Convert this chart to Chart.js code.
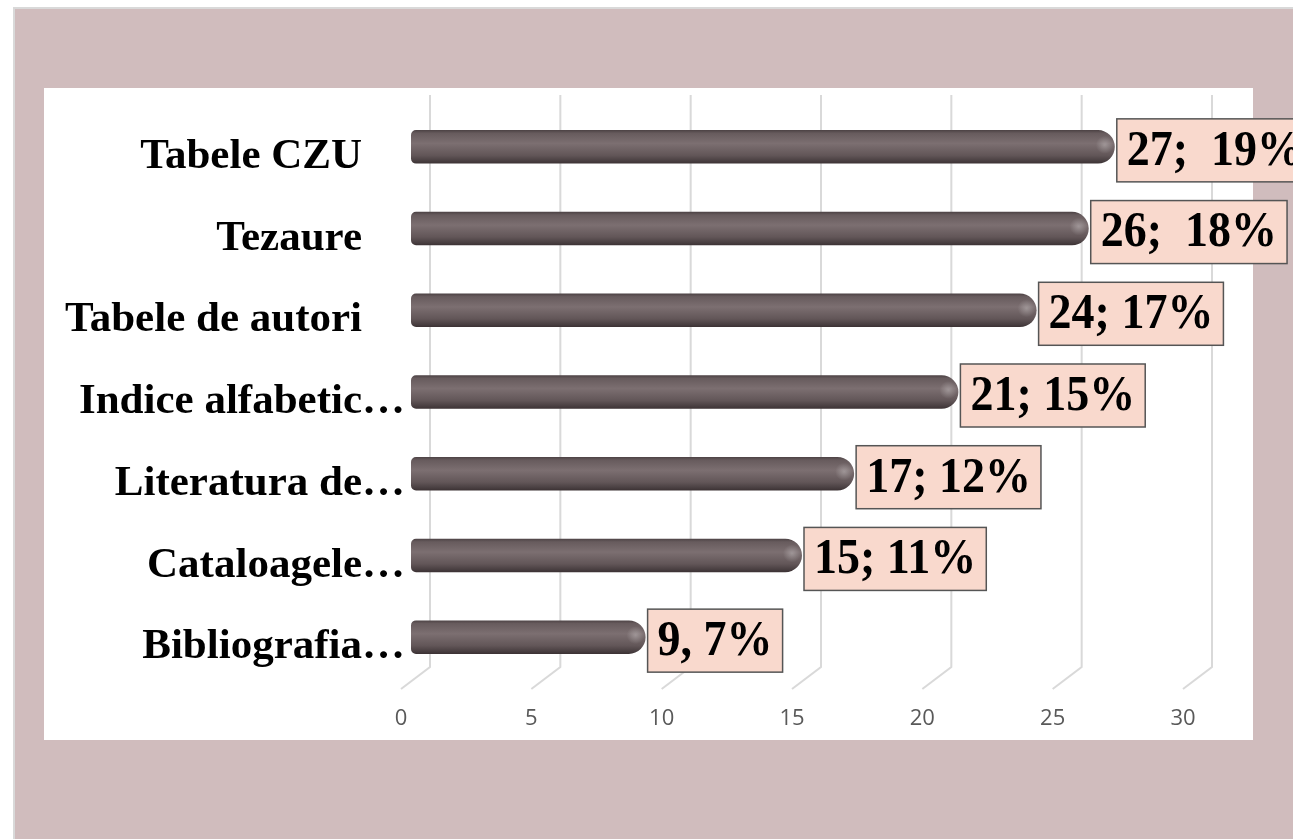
<!DOCTYPE html>
<html lang="ro">
<head>
    <meta charset="UTF-8">
    <title>Instrumente de lucru</title>
    <script src="https://cdn.jsdelivr.net/npm/chart.js"></script>
    <style>
        body { margin: 0; background: #ffffff; }
        #wrap { width: 1293px; height: 839px; }
    </style>
</head>
<body>
    <div id="wrap">
        <canvas id="barChart" width="1293" height="839"></canvas>
    </div>

    <script>
        // chart data
        var categories = ['Tabele CZU    ', 'Tezaure    ', 'Tabele de autori    ', 'Indice alfabetic…', 'Literatura de…', 'Cataloagele…', 'Bibliografia…'];
        var values = [27, 26, 24, 21, 17, 15, 9];
        var valueLabels = ['27;  19%', '26;  18%', '24; 17%', '21; 15%', '17; 12%', '15; 11%', '9, 7%'];
        var xTicks = [0, 5, 10, 15, 20, 25, 30];

        // page frame: grey border, pink panel, white plot panel
        var framePlugin = {
            id: 'frame',
            beforeDraw: function (chart) {
                var ctx = chart.ctx;
                ctx.save();
                ctx.fillStyle = '#ffffff';
                ctx.fillRect(0, 0, chart.width, chart.height);
                ctx.fillStyle = '#d9d9d9';
                ctx.fillRect(13, 7, chart.width, chart.height);
                ctx.fillStyle = '#d0bcbd';
                ctx.fillRect(15, 9, chart.width, chart.height);
                ctx.fillStyle = '#ffffff';
                ctx.fillRect(44, 88, 1209, 652);
                ctx.restore();
            }
        };

        // 3d style grid lines + tick labels
        var gridPlugin = {
            id: 'grid3d',
            beforeDatasetsDraw: function (chart) {
                var ctx = chart.ctx;
                var x = chart.scales.x;
                ctx.save();
                ctx.strokeStyle = '#d9d9d9';
                ctx.lineWidth = 2;
                xTicks.forEach(function (v) {
                    var px = x.getPixelForValue(v);
                    ctx.beginPath();
                    ctx.moveTo(px + 19, 95);
                    ctx.lineTo(px + 19, 667);
                    ctx.lineTo(px - 10, 689);
                    ctx.stroke();
                });
                ctx.fillStyle = '#595959';
                ctx.font = '22px "Open Sans"';
                ctx.textAlign = 'center';
                ctx.textBaseline = 'middle';
                xTicks.forEach(function (v) {
                    ctx.fillText(String(v), x.getPixelForValue(v) - 10, 719);
                });
                ctx.restore();
            }
        };

        // shine on the round bar ends + boxed value labels
        var boxLabelPlugin = {
            id: 'boxLabels',
            afterDatasetsDraw: function (chart) {
                var ctx = chart.ctx;
                var meta = chart.getDatasetMeta(0);
                ctx.save();
                meta.data.forEach(function (bar) {
                    var hx = bar.x - 10, hy = bar.y - 2;
                    var rg = ctx.createRadialGradient(hx, hy, 0, hx, hy, 9);
                    rg.addColorStop(0, 'rgba(255,255,255,0.28)');
                    rg.addColorStop(1, 'rgba(255,255,255,0)');
                    ctx.fillStyle = rg;
                    ctx.beginPath();
                    ctx.arc(hx, hy, 9, 0, Math.PI * 2);
                    ctx.fill();
                });
                ctx.font = 'bold 50px "Liberation Serif"';
                ctx.textBaseline = 'middle';
                ctx.textAlign = 'left';
                meta.data.forEach(function (bar, i) {
                    var txt = valueLabels[i];
                    var w = ctx.measureText(txt).width * 0.92 + 20;
                    var left = bar.x + 2;
                    var top = bar.y + 3.5 - 31.5;
                    ctx.fillStyle = '#f9d9cd';
                    ctx.fillRect(left, top, w, 63);
                    ctx.strokeStyle = '#555555';
                    ctx.lineWidth = 1.5;
                    ctx.strokeRect(left, top, w, 63);
                    ctx.fillStyle = '#000000';
                    ctx.save();
                    ctx.translate(left + 10, bar.y + 5);
                    ctx.scale(0.92, 1);
                    ctx.fillText(txt, 0, 0);
                    ctx.restore();
                });
                ctx.restore();
            }
        };

        function barGradient(c) {
            var chart = c.chart;
            if (!chart.chartArea || c.dataIndex === undefined) {
                return '#6b5f61';
            }
            var y = chart.scales.y.getPixelForValue(c.dataIndex);
            var g = chart.ctx.createLinearGradient(0, y - 17, 0, y + 17);
            g.addColorStop(0, '#4a4042');
            g.addColorStop(0.1, '#675b5d');
            g.addColorStop(0.4, '#7c6f71');
            g.addColorStop(0.75, '#625658');
            g.addColorStop(0.92, '#483e40');
            g.addColorStop(1, '#3a3032');
            return g;
        }

        var ctx = document.getElementById('barChart').getContext('2d');
        var barChart = new Chart(ctx, {
            type: 'bar',
            data: {
                labels: categories,
                datasets: [{
                    data: values,
                    backgroundColor: barGradient,
                    borderWidth: 0,
                    borderSkipped: false,
                    borderRadius: { topLeft: 5, bottomLeft: 5, topRight: 17, bottomRight: 17 },
                    barPercentage: 0.41,
                    categoryPercentage: 1
                }]
            },
            options: {
                indexAxis: 'y',
                responsive: false,
                animation: false,
                devicePixelRatio: 1,
                layout: { padding: { left: 0, top: 106, right: 100, bottom: 161 } },
                plugins: {
                    legend: { display: false },
                    tooltip: { enabled: false }
                },
                scales: {
                    x: {
                        min: 0,
                        max: 30,
                        ticks: { display: false },
                        grid: { display: false, drawTicks: false },
                        border: { display: false },
                        afterFit: function (s) { s.height = 0; }
                    },
                    y: {
                        ticks: {
                            color: '#000000',
                            font: { family: '"Liberation Serif"', size: 43, weight: 'bold' },
                            padding: 6,
                            labelOffset: 10,
                            autoSkip: false
                        },
                        grid: { display: false, drawTicks: false },
                        border: { display: false },
                        afterFit: function (s) { s.width = 411; }
                    }
                }
            },
            plugins: [framePlugin, gridPlugin, boxLabelPlugin]
        });
    </script>
</body>
</html>
